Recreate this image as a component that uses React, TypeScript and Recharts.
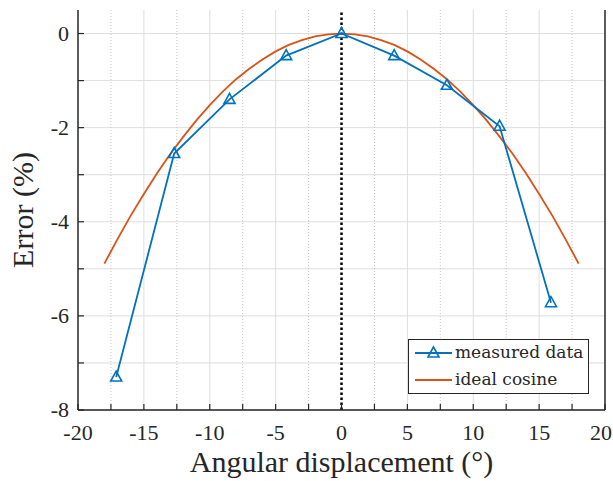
import React from "react";
import {
  LineChart,
  Line,
  XAxis,
  YAxis,
  CartesianGrid,
  ReferenceLine,
} from "recharts";

const measuredX = [-17.1, -12.7, -8.5, -4.2, 0, 4.0, 8.0, 12.0, 15.9];
const measuredY = [-7.3, -2.55, -1.4, -0.47, 0, -0.47, -1.1, -1.97, -5.72];

const cosineX = [
  -18, -17, -16, -15, -14, -13, -12, -11, -10, -9, -8, -7, -6, -5, -4, -3, -2,
  -1, 0, 1, 2, 3, 4, 5, 6, 7, 8, 9, 10, 11, 12, 13, 14, 15, 16, 17, 18,
];
const cosineY = [
  -4.89, -4.37, -3.87, -3.41, -2.97, -2.56, -2.19, -1.84, -1.52, -1.23, -0.97,
  -0.75, -0.55, -0.38, -0.24, -0.14, -0.06, -0.02, 0, -0.02, -0.06, -0.14,
  -0.24, -0.38, -0.55, -0.75, -0.97, -1.23, -1.52, -1.84, -2.19, -2.56, -2.97,
  -3.41, -3.87, -4.37, -4.89,
];

const xTicks = [
  -20, -17.5, -15, -12.5, -10, -7.5, -5, -2.5, 0, 2.5, 5, 7.5, 10, 12.5, 15,
  17.5, 20,
];
const xMinorTicks = [
  -19.5, -19, -18.5, -18, -17, -16.5, -16, -15.5, -14.5, -14, -13.5, -13, -12,
  -11.5, -11, -10.5, -9.5, -9, -8.5, -8, -7, -6.5, -6, -5.5, -4.5, -4, -3.5,
  -3, -2, -1.5, -1, -0.5, 0.5, 1, 1.5, 2, 3, 3.5, 4, 4.5, 5.5, 6, 6.5, 7, 8,
  8.5, 9, 9.5, 10.5, 11, 11.5, 12, 13, 13.5, 14, 14.5, 15.5, 16, 16.5, 17, 18,
  18.5, 19, 19.5,
];
const xMinorGrid = [-17.5, -12.5, -7.5, -2.5, 2.5, 7.5, 12.5, 17.5];
const xMajorGrid = [-15, -10, -5, 5, 10, 15];
const yTicks = [-8, -7, -6, -5, -4, -3, -2, -1, 0];

const measured = measuredX.map((x, i) => ({ x, y: measuredY[i] }));
const cosine = cosineX.map((x, i) => ({ x, y: cosineY[i] }));

const BLUE = "#0072BD";
const ORANGE = "#D95319";
const AXIS = "#262626";
const SERIF = "'Liberation Serif', serif";
const LEGEND_FONT = "'DejaVu Serif', serif";

const Triangle = ({ cx, cy }: any) => (
  <polygon
    points={`${cx},${cy - 6} ${cx - 5.5},${cy + 4} ${cx + 5.5},${cy + 4}`}
    fill="none"
    stroke={BLUE}
    strokeWidth={1.6}
  />
);

const BottomTick = ({ x, y, payload }: any) => {
  const v = payload.value;
  const major = v % 5 === 0;
  // last label sits at the window edge, pull it in a little
  const tx = v === 20 ? x - 4 : x;
  return (
    <g>
      <line x1={x} y1={y} x2={x} y2={y - 6} stroke={AXIS} strokeWidth={1.2} />
      {major && (
        <text
          x={tx}
          y={y + 30}
          textAnchor="middle"
          fill={AXIS}
          style={{ fontFamily: SERIF, fontSize: 22 }}
        >
          {v}
        </text>
      )}
    </g>
  );
};

const TopTick = ({ x, y }: any) => (
  <line x1={x} y1={y} x2={x} y2={y + 6} stroke={AXIS} strokeWidth={1.2} />
);

const TopMinorTick = ({ x, y }: any) => (
  <line x1={x} y1={y} x2={x} y2={y + 3} stroke="#9a9a9a" strokeWidth={0.8} />
);

const LeftTick = ({ x, y, payload }: any) => {
  const v = payload.value;
  return (
    <g>
      <line x1={x} y1={y} x2={x + 6} y2={y} stroke={AXIS} strokeWidth={1.2} />
      {v % 2 === 0 && (
        <text
          x={x - 9}
          y={y + 7}
          textAnchor="end"
          fill={AXIS}
          style={{ fontFamily: SERIF, fontSize: 22 }}
        >
          {v}
        </text>
      )}
    </g>
  );
};

const RightTick = ({ x, y }: any) => (
  <line x1={x} y1={y} x2={x - 6} y2={y} stroke={AXIS} strokeWidth={1.2} />
);

export default function App() {
  return (
    <div
      style={{
        position: "absolute",
        left: 0,
        top: 0,
        width: 613,
        height: 481,
        background: "#fff",
      }}
    >
      <LineChart
        width={613}
        height={481}
        margin={{ top: 10, right: 0, bottom: 0, left: 0 }}
      >
        <CartesianGrid
          stroke="#dedede"
          strokeWidth={1}
          verticalValues={xMajorGrid}
          horizontalValues={yTicks}
        />
        {xMinorGrid.map((v) => (
          <ReferenceLine
            key={v}
            x={v}
            stroke="#c4c4c4"
            strokeDasharray="1 2"
          />
        ))}
        <XAxis
          type="number"
          dataKey="x"
          domain={[-20, 20]}
          ticks={xTicks}
          interval={0}
          height={71}
          tickSize={0}
          tickMargin={0}
          tick={<BottomTick />}
          axisLine={{ stroke: AXIS, strokeWidth: 1.5 }}
          label={{
            value: "Angular displacement (°)",
            position: "insideBottom",
            offset: 9,
            fill: AXIS,
            style: { fontFamily: SERIF, fontSize: 30 },
          }}
        />
        <XAxis
          xAxisId="topMinor"
          orientation="top"
          type="number"
          dataKey="x"
          domain={[-20, 20]}
          ticks={xMinorTicks}
          interval={0}
          height={0}
          tickSize={0}
          tickMargin={0}
          tick={<TopMinorTick />}
          axisLine={false}
        />
        <XAxis
          xAxisId="top"
          orientation="top"
          type="number"
          dataKey="x"
          domain={[-20, 20]}
          ticks={xTicks}
          interval={0}
          height={0}
          tickSize={0}
          tickMargin={0}
          tick={<TopTick />}
          axisLine={{ stroke: AXIS, strokeWidth: 1.5 }}
        />
        <YAxis
          type="number"
          domain={[-8, 0.5]}
          ticks={yTicks}
          interval={0}
          width={78}
          tickSize={0}
          tickMargin={0}
          tick={<LeftTick />}
          axisLine={{ stroke: AXIS, strokeWidth: 1.5 }}
          label={{
            value: "Error (%)",
            angle: -90,
            position: "insideLeft",
            offset: 22,
            fill: AXIS,
            style: { textAnchor: "middle", fontFamily: SERIF, fontSize: 30 },
          }}
        />
        <YAxis
          yAxisId="right"
          orientation="right"
          type="number"
          domain={[-8, 0.5]}
          ticks={yTicks}
          interval={0}
          width={8}
          tickSize={0}
          tickMargin={0}
          tick={<RightTick />}
          axisLine={{ stroke: AXIS, strokeWidth: 1.5 }}
        />
        <ReferenceLine
          x={0}
          stroke="#000"
          strokeWidth={2.5}
          strokeDasharray="2.5 2.5"
        />
        <Line
          data={cosine}
          dataKey="y"
          type="linear"
          stroke={ORANGE}
          strokeWidth={1.8}
          dot={false}
          isAnimationActive={false}
        />
        <Line
          data={measured}
          dataKey="y"
          type="linear"
          stroke={BLUE}
          strokeWidth={1.8}
          dot={<Triangle />}
          isAnimationActive={false}
        />
      </LineChart>
      <div
        style={{
          position: "absolute",
          left: 408,
          top: 339,
          width: 181,
          height: 55,
          border: `1px solid ${AXIS}`,
          background: "#fff",
          fontFamily: LEGEND_FONT,
          fontSize: 17,
          lineHeight: "20px",
          color: AXIS,
          boxSizing: "border-box",
        }}
      >
        <svg
          width={48}
          height={54}
          style={{ position: "absolute", left: 0, top: 0 }}
        >
          <line x1={6} y1={13} x2={43} y2={13} stroke={BLUE} strokeWidth={1.8} />
          <polygon
            points="24.5,7 19,17 30,17"
            fill="none"
            stroke={BLUE}
            strokeWidth={1.6}
          />
          <line x1={6} y1={40} x2={43} y2={40} stroke={ORANGE} strokeWidth={1.8} />
        </svg>
        <div
          style={{ position: "absolute", left: 46, top: 2, whiteSpace: "nowrap" }}
        >
          measured data
        </div>
        <div
          style={{ position: "absolute", left: 46, top: 29, whiteSpace: "nowrap" }}
        >
          ideal cosine
        </div>
      </div>
    </div>
  );
}
